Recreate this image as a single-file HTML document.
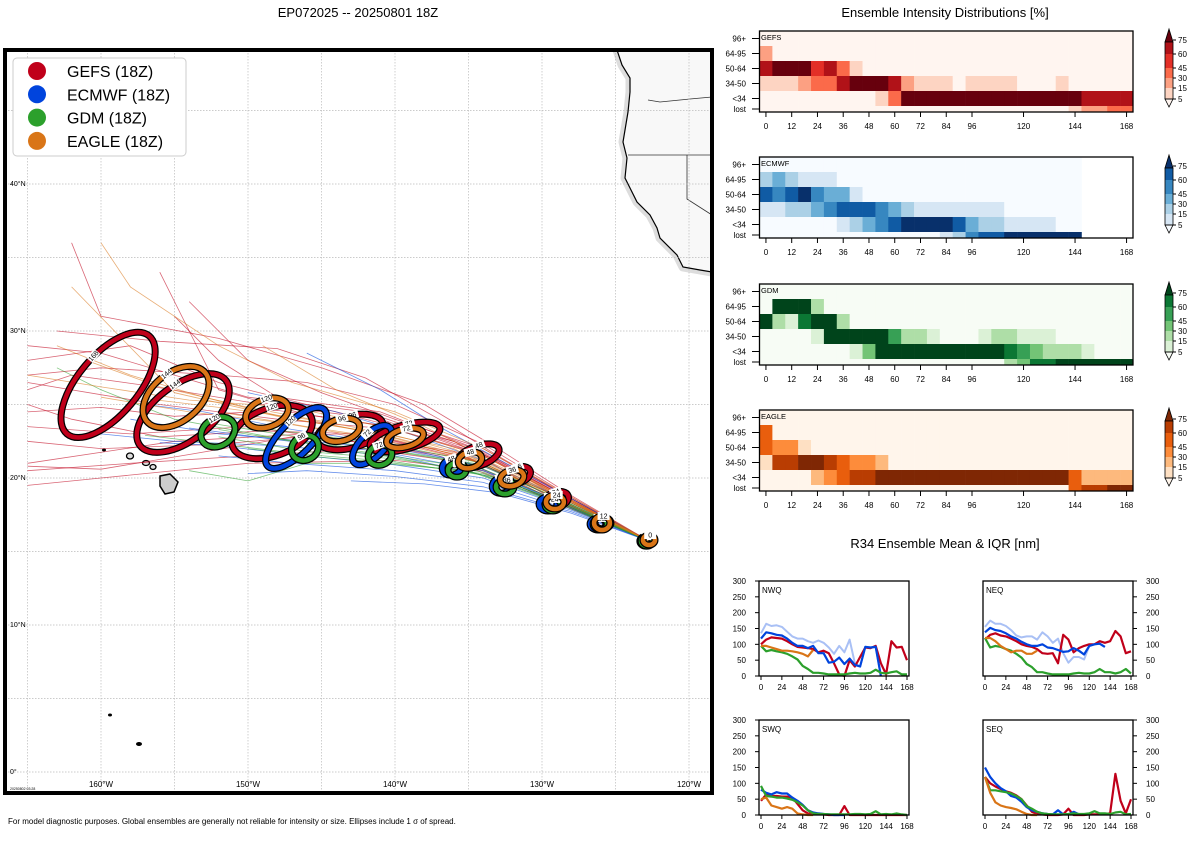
<!DOCTYPE html>
<html><head><meta charset="utf-8"><style>
body{margin:0;background:#fff;}
svg text{font-family:"Liberation Sans",sans-serif;}
</style></head><body>
<svg id="s" width="1200" height="840" xmlns="http://www.w3.org/2000/svg">
<text x="358" y="17" font-size="13" text-anchor="middle">EP072025 -- 20250801 18Z</text>
<text x="945" y="17" font-size="13" text-anchor="middle">Ensemble Intensity Distributions [%]</text>
<text x="945" y="548" font-size="13" text-anchor="middle">R34 Ensemble Mean &amp; IQR [nm]</text>
<text x="8" y="824" font-size="8">For model diagnostic purposes. Global ensembles are generally not reliable for intensity or size. Ellipses include 1 σ of spread.</text>
<g id="map"></g>
<g id="heat"></g>
<g id="r34"></g>
</svg>
<script>
const NS="http://www.w3.org/2000/svg";
function mk(p,t,a){const e=document.createElementNS(NS,t);for(const k in a)e.setAttribute(k,a[k]);p.appendChild(e);return e;}
const models=["GEFS","ECMWF","GDM","EAGLE"];
const modelColors=["#c0001a","#0044dd","#2ca02c","#d97517"];
// ---------- MAP DATA ----------
const trackStart=[-122.7,15.7];
const gefsTracks=[
[[-128,18.4],[-134,21.5],[-140,23.3],[-148,24],[-156,25],[-165,26.5]],
[[-128,18.8],[-133,22],[-138,25],[-145,27.5],[-152,29.5],[-160,31],[-162,36]],
[[-129,18.5],[-135,21],[-142,22],[-150,21.5],[-158,21],[-165,20.5]],
[[-130,19],[-136,22.5],[-144,24.5],[-152,26.5],[-158,29],[-165,28]],
[[-130,18.8],[-137,21.5],[-146,23],[-155,22.5],[-165,21]],
[[-129,18.3],[-134,20.5],[-140,21.2],[-150,21.0],[-160,20.0],[-165,19.5]],
[[-128,18.6],[-134,21.8],[-142,24.5],[-150,25.5],[-155,27],[-160,28.5],[-165,29]],
[[-128,18.5],[-133,21.2],[-139,23.3],[-146,24.3],[-152,26],[-154,30],[-156,34]],
[[-129,18.8],[-135,22.2],[-141,24.5],[-148,25.5],[-152,28],[-155,31]],
[[-128,18.4],[-135,21.3],[-143,22.5],[-150,23.5],[-158,23],[-165,23.5]],
[[-128,18.7],[-134,22.3],[-140,25],[-146,26.5],[-152,27],[-160,27.5],[-165,27]],
[[-129,18.6],[-136,21.8],[-144,23],[-152,22.3],[-160,22],[-165,22.5]],
[[-128,18.5],[-134,21.6],[-141,23.6],[-148,24.6],[-155,24.2],[-160,24.8],[-165,24.5]],
[[-128,18.6],[-134,22],[-140,24],[-145,25.8],[-150,28],[-154,32]],
[[-129,18.4],[-135,21.4],[-142,23],[-149,23.2],[-156,22.8],[-162,24],[-165,25]],
[[-128,18.5],[-134,21.7],[-141,24],[-149,25],[-157,26.3],[-162,27],[-165,26]],
[[-128,18.3],[-134,21],[-140,22.5],[-147,22.8],[-154,21.6],[-160,20.6],[-165,20.8]],
[[-128,18.6],[-133,21.5],[-137,24],[-142,26.8],[-148,28.8],[-156,29.3],[-163,30]]];
const ecmwfTracks=[
[[-128,18.2],[-134,20.8],[-140,22],[-146,22.5],[-152,23],[-158,24]],
[[-128,18.6],[-133,21.3],[-137,23.5],[-141,26],[-146,28.5]],
[[-128,17.8],[-134,19.7],[-140,20.5],[-147,21],[-152,21.5]],
[[-128,18],[-134,20.2],[-140,21.5],[-148,22.2],[-155,22.5],[-160,23]],
[[-129,18.4],[-135,21],[-141,22.4],[-147,23.3],[-153,24.5],[-157,25]],
[[-128,17.6],[-133,19],[-138,19.6],[-143,19.8]],
[[-128,18.3],[-134,21.2],[-139,23],[-144,24.5],[-150,25.8]],
[[-128,17.9],[-134,20],[-140,20.9],[-146,21.5],[-152,22.2],[-156,22.4]],
[[-128,18.1],[-134,20.5],[-141,21.8],[-148,22.6],[-154,23.4]],
[[-128,17.7],[-134,19.4],[-140,20.1],[-146,20.5],[-150,20.3]]];
const gdmTracks=[
[[-128,18],[-134,20.4],[-140,21.3],[-146,21.8],[-152,22.8]],
[[-128,18.2],[-134,20.8],[-140,21.8],[-147,22.5],[-152,23.3]],
[[-129,18.3],[-135,20.5],[-141,21],[-146,21],[-150,19.8],[-154,20.5]],
[[-128,18.1],[-134,20.6],[-141,21.6],[-148,22.7],[-155,24],[-160,26],[-163,27.5]],
[[-128,18],[-133,20],[-140,21.4],[-146,22.2]],
[[-128,18.1],[-134,20.3],[-140,21],[-145,21.4],[-150,22]],
[[-128,18.2],[-134,20.9],[-141,22],[-148,23],[-153,23.8]],
[[-128,18.0],[-134,20.2],[-140,21.1],[-146,21.6],[-151,22.2],[-157,22.9]],
[[-128,18.3],[-134,21],[-140,22.2],[-146,23],[-150,23.5]]];
const eagleTracks=[
[[-128,18.5],[-134,21.3],[-140,22.9],[-147,24],[-153,25.5],[-158,27],[-163,29]],
[[-128,18.7],[-134,22],[-140,24.5],[-147,26.5],[-152,29],[-158,33],[-160,36]],
[[-128,18.3],[-134,21],[-141,22.6],[-148,23.8],[-154,24.5],[-160,25.5]],
[[-129,18.6],[-136,22],[-143,23.5],[-150,24.8],[-156,26.2],[-161,28]],
[[-128,18.4],[-133,21],[-138,23.5],[-144,26],[-149,29]],
[[-128,18.4],[-134,21.1],[-140,22.6],[-146,23.5],[-152,24.5]],
[[-128,18.5],[-134,21.5],[-140,23.3],[-147,24.8],[-154,25.3],[-160,26.2],[-165,27]],
[[-128,18.4],[-134,21.2],[-141,23],[-148,24.2],[-155,25.8],[-162,33]],
[[-128,18.3],[-134,21],[-140,22.7],[-146,24],[-152,24.8],[-157,25.4]]];
const allTracks=[gefsTracks,ecmwfTracks,gdmTracks,eagleTracks];
// ellipses: [hour, lon, lat, semiMajorDeg, semiMinorDeg, angleDeg]
const gefsEll=[[168,-159.52,26.33,4.35,2.04,-50],[144,-154.42,24.42,3.67,1.9,-37],[120,-148.37,23.13,2.86,1.63,-20],[96,-143.06,23.13,2.31,1.09,-15],[72,-139.32,22.79,2.45,0.82,-15],[48,-134.35,21.5,1.5,0.68,-20],[36,-131.63,20.2,0.88,0.54,-20],[24,-129.05,18.5,0.88,0.54,-20],[12,-125.85,16.94,0.54,0.41,0],[0,-122.79,15.78,0.41,0.34,0]];
const ecmwfEll=[[120,-146.73,22.72,2.72,1.09,-45],[72,-141.56,22.24,1.7,0.82,-45],[48,-136.12,20.75,0.68,0.54,-20],[36,-132.72,19.52,0.68,0.54,-20],[24,-129.59,18.23,0.61,0.48,0],[12,-126.19,16.87,0.54,0.41,0],[0,-122.93,15.71,0.41,0.34,0]];
const gdmEll=[[120,-152.04,23.13,1.22,0.95,-30],[96,-146.12,22.04,0.95,0.82,-30],[72,-141.02,21.56,0.82,0.68,-20],[48,-135.78,20.54,0.61,0.48,0],[36,-132.52,19.39,0.61,0.48,0],[24,-129.25,18.16,0.54,0.41,0],[12,-126.05,16.87,0.48,0.41,0],[0,-122.86,15.71,0.41,0.34,0]];
const eagleEll=[[144,-154.9,25.51,2.59,1.63,-40],[120,-148.71,24.42,1.5,0.95,-20],[96,-143.67,23.27,1.29,0.75,-15],[72,-139.32,22.72,1.29,0.61,-15],[48,-134.9,21.22,0.82,0.54,-15],[36,-132.04,20.0,0.82,0.54,-15],[24,-129.12,18.37,0.61,0.48,0],[12,-125.92,16.94,0.54,0.48,0],[0,-122.72,15.78,0.41,0.34,0]];
const allEll=[gefsEll,ecmwfEll,gdmEll,eagleEll];
const latTicks=[0,10,20,30,40];
const lonTicks=[-160,-150,-140,-130,-120];
// ---------- MAP AXES ----------
const PX=14.7;
const lx=lon=>101+(lon+160)*PX;
const ly=lat=>772-lat*PX;
const map=document.getElementById('map');
mk(map,'rect',{x:5,y:50,width:707,height:743,fill:'#fff'});
mk(map,'defs',{}).innerHTML='<clipPath id="mc"><rect x="5" y="50" width="707" height="743"/></clipPath>';
const mg=mk(map,'g',{'clip-path':'url(#mc)'});
const coast='M617,50 L622,65 L630,78 L630,92 L628,112 L623,142 L627,158 L625,178 L632,192 L637,202 L650,215 L657,228 L660,238 L677,255 L683,267 L700,270 L712,272 L712,50 Z';
const land=mk(mg,'path',{d:coast,fill:'#f8f8f8',stroke:'#ddd','stroke-width':9,'stroke-linejoin':'round'});

mk(mg,'path',{d:coast,fill:'#f8f8f8',stroke:'#000','stroke-width':1.2});
mk(mg,'path',{d:'M648,100 L660,102 L690,99 L712,97 M628,155 L712,155 M687,155 L687,199 L712,215',fill:'none',stroke:'#333','stroke-width':0.8});
for(let lo=-165;lo<=-120;lo+=5)mk(mg,'line',{x1:lx(lo),x2:lx(lo),y1:50,y2:793,stroke:'#bbb','stroke-width':0.7,'stroke-dasharray':'1.5,1.5'});
for(let la=0;la<=45;la+=5)mk(mg,'line',{x1:5,x2:712,y1:ly(la),y2:ly(la),stroke:'#bbb','stroke-width':0.7,'stroke-dasharray':'1.5,1.5'});
const isl=mk(mg,'g',{});
mk(isl,'path',{d:'M160,476 L170,474 L178,482 L174,492 L165,494 L160,486 Z',fill:'#ccc',stroke:'#000','stroke-width':1.5});
mk(isl,'ellipse',{cx:130,cy:456,rx:3.5,ry:3,fill:'#ddd',stroke:'#000','stroke-width':1.3});
mk(isl,'ellipse',{cx:146,cy:463,rx:3.5,ry:2.5,fill:'#ddd',stroke:'#000','stroke-width':1.3});
mk(isl,'ellipse',{cx:153,cy:467,rx:3,ry:2.5,fill:'#ddd',stroke:'#000','stroke-width':1.3});
mk(isl,'ellipse',{cx:104,cy:450,rx:2,ry:1.5,fill:'#000'});
mk(isl,'ellipse',{cx:110,cy:715,rx:2,ry:1.5,fill:'#000'});
mk(isl,'ellipse',{cx:139,cy:744,rx:3,ry:2,fill:'#000'});
allTracks.forEach((set,m)=>{set.forEach(tr=>{
 const pts=[trackStart].concat(tr).map(p=>lx(p[0]).toFixed(1)+','+ly(p[1]).toFixed(1)).join(' ');
 const l=mk(mg,'polyline',{points:pts,fill:'none',stroke:modelColors[m],'stroke-width':0.8,opacity:0.6});
 
 
});});
allEll.forEach((set,m)=>{set.forEach(e=>{
 const cx=lx(e[1]),cy=ly(e[2]),a=e[3]*PX,b=e[4]*PX;
 const g=mk(mg,'g',{transform:`translate(${cx.toFixed(1)},${cy.toFixed(1)}) rotate(${e[5]})`});
 
 
 mk(g,'ellipse',{cx:0,cy:0,rx:a,ry:b,fill:'none',stroke:'#000','stroke-width':7});
 mk(g,'ellipse',{cx:0,cy:0,rx:a,ry:b,fill:'none',stroke:modelColors[m],'stroke-width':4.5});
 const tx=a*0.2,ty=-b;
 mk(g,'rect',{x:tx-6,y:ty-4,width:12,height:8,fill:'#fff'});
 const t=mk(g,'text',{x:tx,y:ty+2.5,'font-size':7,'text-anchor':'middle'});t.textContent=e[0];
});});
mk(map,'rect',{x:5,y:50,width:707,height:743,fill:'none',stroke:'#000','stroke-width':4});
latTicks.forEach(v=>{const t=mk(map,'text',{x:10,y:ly(v)+2,'font-size':7});t.textContent=v+'°'+(v?'N':'');
 });
lonTicks.forEach(v=>{const t=mk(map,'text',{x:lx(v),y:787,'font-size':8,'text-anchor':'middle'});t.textContent=(-v)+'°W';
 });
mk(map,'text',{x:10,y:790,'font-size':3.5}).textContent='20250802 03:28';
const lg=mk(map,'g',{});
mk(lg,'rect',{x:13,y:58,width:173,height:98,rx:4,fill:'#fff',stroke:'#ccc','stroke-width':1});
models.forEach((m,i)=>{const y=71+i*23.3;
 const en=mk(lg,'g',{});
 mk(en,'circle',{cx:37,cy:y,r:9,fill:modelColors[i]});
 const t=mk(en,'text',{x:67,y:y+6,'font-size':16});t.textContent=m+' (18Z)';});
// ---------- HEATMAP DATA ----------
const rowLabels=["96+","64-95","50-64","34-50","<34","lost"];
const hourTicks=[0,12,24,36,48,60,72,84,96,120,144,168];
const cbTicks=[5,15,30,45,60,75];
const gefsBins=[
[0,0,0,0,0,0,0,0,0,0,0,0,0,0,0,0,0,0,0,0,0,0,0,0,0,0,0,0,0],
[2,0,0,0,0,0,0,0,0,0,0,0,0,0,0,0,0,0,0,0,0,0,0,0,0,0,0,0,0],
[5,6,6,6,4,5,3,1,0,0,0,0,0,0,0,0,0,0,0,0,0,0,0,0,0,0,0,0,0],
[1,1,1,2,3,3,5,6,6,6,5,2,1,1,1,0,1,1,1,1,0,0,0,1,0,0,0,0,0],
[0,0,0,0,0,0,0,0,0,1,3,6,6,6,6,6,6,6,6,6,6,6,6,6,6,5,5,5,5],
[0,0,0,0,0,0,0,0,0,0,0,0,0,0,0,0,0,0,0,0,0,0,0,0,1,2,2,3,3]];
const ecmwfBins=[
[0,0,0,0,0,0,0,0,0,0,0,0,0,0,0,0,0,0,0,0,0,0,0,0,0,-1,-1,-1,-1],
[2,3,2,1,1,1,0,0,0,0,0,0,0,0,0,0,0,0,0,0,0,0,0,0,0,-1,-1,-1,-1],
[5,4,5,6,4,3,3,1,0,0,0,0,0,0,0,0,0,0,0,0,0,0,0,0,0,-1,-1,-1,-1],
[1,1,2,2,3,4,5,5,5,4,3,2,1,1,1,1,1,1,1,0,0,0,0,0,0,-1,-1,-1,-1],
[0,0,0,0,0,0,1,2,3,4,5,6,6,6,6,5,3,2,2,1,1,1,1,0,0,-1,-1,-1,-1],
[0,0,0,0,0,0,0,0,0,0,0,0,0,0,1,2,4,5,5,6,6,6,6,6,6,-1,-1,-1,-1]];
const gdmBins=[
[0,0,0,0,0,0,0,0,0,0,0,0,0,0,0,0,0,0,0,0,0,0,0,0,0,0,0,0,0],
[0,6,6,6,2,0,0,0,0,0,0,0,0,0,0,0,0,0,0,0,0,0,0,0,0,0,0,0,0],
[6,2,1,5,6,6,2,0,0,0,0,0,0,0,0,0,0,0,0,0,0,0,0,0,0,0,0,0,0],
[0,0,0,0,1,6,6,6,6,6,4,2,2,1,0,0,0,1,2,2,1,1,1,0,0,0,0,0,0],
[0,0,0,0,0,0,0,1,3,6,6,6,6,6,6,6,6,6,6,5,4,3,2,2,2,1,0,0,0],
[0,0,0,0,0,0,0,0,0,0,0,0,0,0,0,0,0,0,0,2,3,5,5,6,6,6,6,6,6]];
const eagleBins=[
[0,0,0,0,0,0,0,0,0,0,0,0,0,0,0,0,0,0,0,0,0,0,0,0,0,0,0,0,0],
[4,0,0,0,0,0,0,0,0,0,0,0,0,0,0,0,0,0,0,0,0,0,0,0,0,0,0,0,0],
[4,3,3,1,0,0,0,0,0,0,0,0,0,0,0,0,0,0,0,0,0,0,0,0,0,0,0,0,0],
[1,5,5,6,6,5,4,3,3,2,0,0,0,0,0,0,0,0,0,0,0,0,0,0,0,0,0,0,0],
[0,0,0,0,2,3,4,5,5,6,6,6,6,6,6,6,6,6,6,6,6,6,6,6,4,2,2,2,2],
[0,0,0,0,0,0,0,0,0,0,0,0,0,0,0,0,0,0,0,0,0,0,0,0,4,5,5,6,6]];
const allBins=[gefsBins,ecmwfBins,gdmBins,eagleBins];
const palettes=[
["#fff5f0","#fdd4c2","#fca082","#fb6a4a","#e32f27","#b11218","#67000d"],
["#f7fbff","#d6e6f4","#abd0e6","#6aaed6","#3787c0","#105ba4","#08306b"],
["#f7fcf5","#dbf1d6","#aedea7","#73c476","#37a055","#0b7734","#00441b"],
["#fff5eb","#fee0c3","#fdb97d","#fd8c3b","#e95e0d","#b93d02","#7f2704"]];
const heat=document.getElementById('heat');
const HX0=759.5,HX1=1133,HCW=(HX1-HX0)/29;
const hx=h=>HX0+HCW*(h/6+0.5);
const rowY=[0,15,30,45,60,75,81];
const panelTops=[31,157,284,410];
allBins.forEach((bins,m)=>{
 const top=panelTops[m];
 const g=mk(heat,'g',{});
 bins.forEach((row,r)=>{row.forEach((v,c)=>{
  if(v<0)return;
  const cell=mk(g,'rect',{x:(HX0+c*HCW).toFixed(2),y:top+rowY[r],width:(HCW+0.3).toFixed(2),height:rowY[r+1]-rowY[r]+0.3,fill:palettes[m][v]});
  
 });
 const t=mk(g,'text',{x:746,y:top+(rowY[r]+rowY[r+1])/2+3,'font-size':8,'text-anchor':'end'});t.textContent=rowLabels[r];
 mk(g,'line',{x1:752,x2:759,y1:top+(rowY[r]+rowY[r+1])/2,y2:top+(rowY[r]+rowY[r+1])/2,stroke:'#000','stroke-width':1});
 });
 mk(g,'rect',{x:HX0,y:top,width:HX1-HX0,height:81,fill:'none',stroke:'#000','stroke-width':1.3});
 const nm=mk(g,'text',{x:761,y:top+9,'font-size':7.5});nm.textContent=models[m];
 hourTicks.forEach(h=>{mk(g,'line',{x1:hx(h),x2:hx(h),y1:top+81,y2:top+86,stroke:'#000','stroke-width':1});
  const t=mk(g,'text',{x:hx(h),y:top+98,'font-size':8,'text-anchor':'middle'});t.textContent=h;});
 const cb=mk(g,'g',{transform:`translate(0,${top-31})`});
 const tY=[99,88,78,68,54,42];
 mk(cb,'polygon',{points:'1165,42 1169,29 1173,42',fill:palettes[m][6],stroke:'#000','stroke-width':0.8});
 for(let k=0;k<5;k++)mk(cb,'rect',{x:1165,y:tY[k+1],width:8,height:tY[k]-tY[k+1],fill:palettes[m][k+1]});
 mk(cb,'polygon',{points:'1165,99 1169,107 1173,99',fill:palettes[m][0],stroke:'#000','stroke-width':0.8});
 mk(cb,'rect',{x:1165,y:42,width:8,height:57,fill:'none',stroke:'#000','stroke-width':0.8});
 cbTicks.forEach((v,k)=>{const yy=[99,88,78,68,54,40][k];mk(cb,'line',{x1:1173,x2:1176,y1:yy,y2:yy,stroke:'#000'});
  const t=mk(cb,'text',{x:1178,y:yy+3,'font-size':8});t.textContent=v;});
});
// ---------- R34 DATA ----------
const r34Hours=[0,6,12,18,24,30,36,42,48,54,60,66,72,78,84,90,96,102,108,114,120,126,132,138,144,150,156,162,168];
const nwqGefs=[100,115,122,120,118,110,100,92,90,88,85,75,80,72,40,5,0,50,30,60,90,88,95,40,5,110,90,92,50];
const nwqEcmwf=[118,138,135,130,128,118,105,95,95,88,95,72,72,42,45,58,38,55,35,30,92,90,92,0];
const nwqGdm=[95,78,82,78,75,70,62,52,32,22,10,10,8,5,5,5,5,8,10,8,8,10,20,10,8,12,15,5,5];
const nwqEagle=[95,95,90,85,80,80,78,75,70,62,82];
const neqGefs=[115,130,135,128,125,118,110,100,95,92,85,72,70,72,40,130,115,75,88,95,100,100,110,105,110,142,125,72,78];
const neqEcmwf=[138,152,145,142,135,125,118,108,100,95,95,100,90,88,82,76,78,88,80,68,95,100,102,92];
const neqGdm=[120,90,95,92,85,80,70,58,38,28,12,12,8,5,5,5,5,8,10,8,8,12,22,12,12,8,12,22,8];
const neqEagle=[120,120,110,95,85,75,80,80,70,70,80];
const swqGefs=[45,65,60,60,58,58,55,35,15,5,3,2,2,0,0,0,28,0,0,0,0,0,0,0,0,0,0,0,0];
const swqEcmwf=[80,70,65,72,68,68,55,45,32,15,8,5,3,2,0,0,0];
const swqGdm=[92,60,58,55,55,52,48,40,30,15,5,3,3,2,2,2,2,2,3,3,2,3,12,2,3,2,5,2,0];
const swqEagle=[50,55,30,25,20,25,20,5,2,0,0];
const seqGefs=[120,100,90,82,75,70,62,50,30,10,3,2,0,0,0,2,20,0,0,0,2,2,2,3,5,130,45,5,50];
const seqEcmwf=[150,120,100,85,75,60,55,42,25,15,10,5,3,2,15,2,2,10,2,2];
const seqGdm=[120,78,78,75,72,68,60,50,28,20,10,5,3,2,2,2,3,5,3,3,5,12,5,5,3,8,10,2,3];
const seqEagle=[120,70,40,30,25,22,18,10,3,0,0];
const nwqEcmwfUpper=[135,165,158,160,155,140,125,118,118,110,105,112,105,90,70,95,75,115,40,30,92,90,92,0];
const neqEcmwfUpper=[155,175,165,165,158,145,128,122,125,125,115,138,125,105,118,72,42,60,60,52,95,100,102,92];
const r34Ticks=[0,50,100,150,200,250,300];
const r34HourTicks=[0,24,48,72,96,120,144,168];
const panels=[
 {name:"NWQ",x:759,y:581,right:false,series:[nwqEcmwfUpper,nwqGefs,nwqEcmwf,nwqGdm,nwqEagle]},
 {name:"NEQ",x:983,y:581,right:true,series:[neqEcmwfUpper,neqGefs,neqEcmwf,neqGdm,neqEagle]},
 {name:"SWQ",x:759,y:720,right:false,series:[null,swqGefs,swqEcmwf,swqGdm,swqEagle]},
 {name:"SEQ",x:983,y:720,right:true,series:[null,seqGefs,seqEcmwf,seqGdm,seqEagle]}];
const r34=document.getElementById('r34');
panels.forEach(p=>{
 const W=150,H=95;
 const xs=h=>p.x+2+h/168*146, ys=v=>p.y+H-v/300*H;
 const g=mk(r34,'g',{});
 mk(g,'rect',{x:p.x,y:p.y,width:W,height:H,fill:'#fff'});
 const cols=["#a9c0f5"].concat(modelColors);
 p.series.forEach((s,i)=>{if(!s)return;
  const pts=s.map((v,k)=>xs(r34Hours[k]).toFixed(1)+','+ys(v).toFixed(1)).join(' ');
  const l=mk(g,'polyline',{points:pts,fill:'none',stroke:cols[i],'stroke-width':i?2.2:2,'stroke-linejoin':'round'});
  
  
 });
 mk(g,'rect',{x:p.x,y:p.y,width:W,height:H,fill:'none',stroke:'#000','stroke-width':1.3});
 const lb=mk(g,'text',{x:p.x+3,y:p.y+12,'font-size':8});lb.textContent=p.name;
 r34Ticks.forEach(v=>{const ax=p.right?p.x+W:p.x;
  mk(g,'line',{x1:ax,x2:p.right?ax+4:ax-4,y1:ys(v),y2:ys(v),stroke:'#000'});
  const t=mk(g,'text',{x:p.right?ax+13:ax-13,y:ys(v)+3,'font-size':8,'text-anchor':p.right?'start':'end'});t.textContent=v;});
 r34HourTicks.forEach(h=>{mk(g,'line',{x1:xs(h),x2:xs(h),y1:p.y+H,y2:p.y+H+4,stroke:'#000'});
  const t=mk(g,'text',{x:xs(h),y:p.y+H+14,'font-size':8,'text-anchor':'middle'});t.textContent=h;});
});
</script>
</body></html>
